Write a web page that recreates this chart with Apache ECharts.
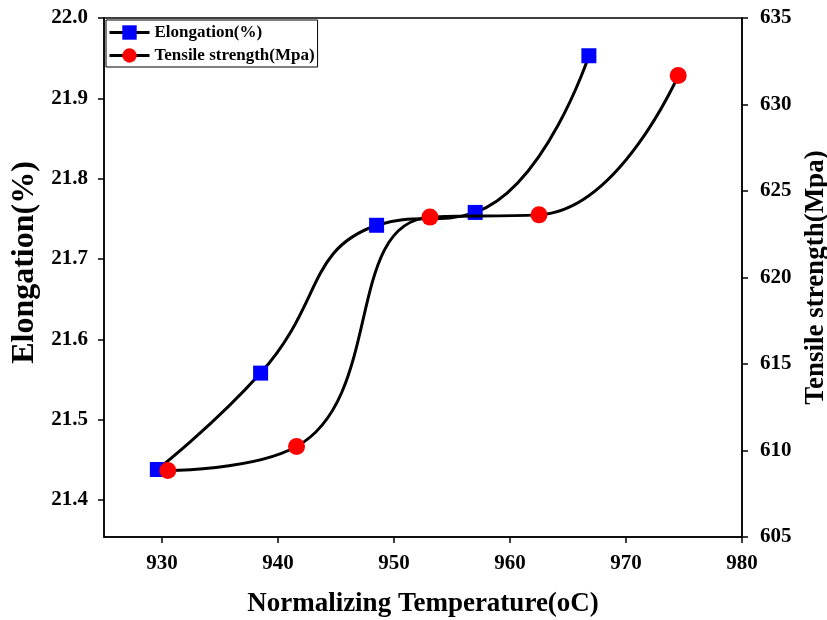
<!DOCTYPE html>
<html>
<head>
<meta charset="utf-8">
<script src="https://cdn.jsdelivr.net/npm/echarts@6/dist/echarts.min.js"></script>
<style>html,body{margin:0;padding:0;background:#fff}#c{width:827px;height:620px}</style>
</head>
<body>
<div id="c"></div>
<script>
// Data
var elongTemp = [929.6, 938.5, 948.5, 957.0, 966.8];
var elongValues = [21.438, 21.558, 21.742, 21.758, 21.953];
var tensileTemp = [930.5, 941.6, 953.1, 962.5, 974.5];
var tensileValues = [608.85, 610.23, 623.49, 623.62, 631.67];
var leftTicks = [21.4, 21.5, 21.6, 21.7, 21.8, 21.9, 22.0];
var rightTicks = [605, 610, 615, 620, 625, 630, 635];
var xTicks = [930, 940, 950, 960, 970, 980];

function pairs(xs, ys) { return xs.map(function (x, i) { return [x, ys[i]]; }); }

var font = 'Liberation Serif';
var tickFont = { fontFamily: font, fontWeight: 'bold', fontSize: 21, color: '#000' };
var chart = echarts.init(document.getElementById('c'));
chart.setOption({
  animation: false,
  backgroundColor: '#fff',
  textStyle: { fontFamily: font },
  grid: { left: 104, right: 85, top: 18, bottom: 83, show: true, borderColor: '#000', borderWidth: 1.5,
          containLabel: false, outerBoundsMode: 'none' },
  legend: {
    orient: 'vertical', left: 106, top: 20,
    itemWidth: 40, itemHeight: 18, itemGap: 6,
    padding: [4, 3, 3, 2],
    borderColor: '#000', borderWidth: 1,
    lineStyle: { width: 3, color: '#000' },
    textStyle: { fontFamily: font, fontWeight: 'bold', fontSize: 17, color: '#000' },
    data: ['Elongation(%)', 'Tensile strength(Mpa)']
  },
  xAxis: {
    type: 'value', min: 925, max: 980,
    name: 'Normalizing Temperature(oC)', nameLocation: 'middle', nameGap: 54,
    nameTextStyle: { fontFamily: font, fontWeight: 'bold', fontSize: 27, color: '#000' },
    axisLine: { lineStyle: { color: '#000', width: 1.5 } },
    axisTick: { length: 6, lineStyle: { color: '#000', width: 1.5 }, customValues: xTicks },
    axisLabel: Object.assign({ margin: 16, customValues: xTicks }, tickFont),
    splitLine: { show: false }
  },
  yAxis: [{
    type: 'value', min: 21.354, max: 22.0, position: 'left',
    name: 'Elongation(%)', nameLocation: 'middle', nameGap: 58,
    nameTextStyle: { fontFamily: font, fontWeight: 'bold', fontSize: 32, color: '#000', padding: [0, 0, 0, 30] },
    axisLine: { show: true, lineStyle: { color: '#000', width: 1.5 } },
    axisTick: { show: true, length: 6, lineStyle: { color: '#000', width: 1.5 }, customValues: leftTicks },
    axisLabel: Object.assign({ margin: 16, customValues: leftTicks,
      formatter: function (v) { return v.toFixed(1); } }, tickFont),
    splitLine: { show: false }
  }, {
    type: 'value', min: 605, max: 635, interval: 5, position: 'right',
    name: 'Tensile strength(Mpa)', nameLocation: 'middle', nameGap: 60,
    nameTextStyle: { fontFamily: font, fontWeight: 'bold', fontSize: 27, color: '#000' },
    axisLine: { show: true, lineStyle: { color: '#000', width: 1.5 } },
    axisTick: { show: true, length: 6, lineStyle: { color: '#000', width: 1.5 }, customValues: rightTicks },
    axisLabel: Object.assign({ margin: 18, customValues: rightTicks }, tickFont),
    splitLine: { show: false }
  }],
  series: [{
    name: 'Elongation(%)', type: 'line', yAxisIndex: 0, smooth: 0.5, smoothConstraint: false,
    data: pairs(elongTemp, elongValues),
    symbol: 'rect', symbolSize: 15,
    lineStyle: { color: '#000', width: 3 },
    itemStyle: { color: '#0000ff', borderWidth: 0 },
    z: 3
  }, {
    name: 'Tensile strength(Mpa)', type: 'line', yAxisIndex: 1, smooth: 0.5, smoothConstraint: false,
    data: pairs(tensileTemp, tensileValues),
    symbol: 'circle', symbolSize: 17,
    lineStyle: { color: '#000', width: 3 },
    itemStyle: { color: '#ff0000', borderWidth: 0 },
    z: 4
  }]
});
</script>
</body>
</html>
